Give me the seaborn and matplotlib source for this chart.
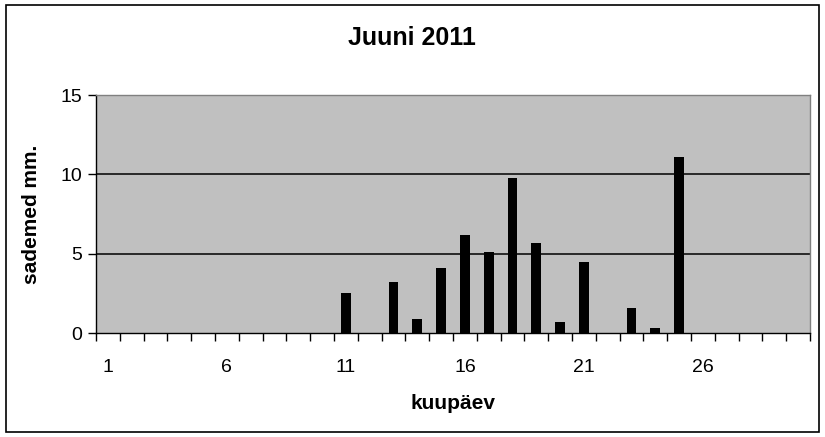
import matplotlib
matplotlib.use('Agg')
import matplotlib.pyplot as plt
import numpy as np
import pandas as pd
import seaborn as sns
from matplotlib.patches import Rectangle

# sademed juunis 2011 (mm), päevad 1..30
paevad = list(range(1, 31))
sademed = [0, 0, 0, 0, 0, 0, 0, 0, 0, 0,
           2.5, 0, 3.2, 0.9, 4.1, 6.2, 5.1, 9.8, 5.7, 0.7,
           4.5, 0, 1.6, 0.3, 11.1, 0, 0, 0, 0, 0]
y_ticks = [0, 5, 10, 15]
x_labels = ['1', '6', '11', '16', '21', '26']

df = pd.DataFrame({'kuupaev': paevad, 'sademed': sademed})

sns.set_style('white')
plt.rcParams['font.family'] = ['Liberation Sans', 'DejaVu Sans']
plt.rcParams['text.color'] = 'black'
plt.rcParams['axes.labelcolor'] = 'black'
plt.rcParams['xtick.color'] = 'black'
plt.rcParams['ytick.color'] = 'black'

fig = plt.figure(figsize=(8.25, 4.37), dpi=100)
ax = fig.add_axes([96 / 825, 1 - 333 / 437, (810 - 96) / 825, (333 - 95) / 437])

sns.barplot(data=df, x='kuupaev', y='sademed', color='black', width=0.42,
            saturation=1, linewidth=0, edgecolor='black', ax=ax, zorder=3)

ax.set_facecolor('#c0c0c0')
ax.set_xlim(-0.5, 29.5)
ax.set_ylim(0, 15)

ax.set_yticks(y_ticks)
ax.set_yticklabels([str(v) for v in y_ticks], fontsize=14)
for v in [5, 10]:
    ax.axhline(v, color='black', lw=1.1, zorder=2)

ax.set_xticks([0, 5, 10, 15, 20, 25])
ax.set_xticklabels(x_labels, fontsize=14)
ax.set_xticks(np.arange(-0.5, 30, 1), minor=True)
ax.tick_params(axis='x', which='major', length=0, pad=19, bottom=True)
ax.tick_params(axis='x', which='minor', length=6, width=1, color='black',
               direction='out', bottom=True)
ax.tick_params(axis='y', which='major', length=6, width=1, color='black',
               direction='out', pad=4, left=True)

for s in ['top', 'right']:
    ax.spines[s].set_color('#808080')
    ax.spines[s].set_linewidth(1)
for s in ['left', 'bottom']:
    ax.spines[s].set_color('black')
    ax.spines[s].set_linewidth(1)

ax.set_xlabel('kuupäev', fontsize=15, fontweight='bold', labelpad=13)
ax.set_ylabel('sademed mm.', fontsize=15, fontweight='bold', labelpad=14)
fig.text(412 / 825, 1 - 38 / 437, 'Juuni 2011', fontsize=18, fontweight='bold',
         ha='center', va='center')

# välimine raam
fig.patches.append(Rectangle((6 / 825, 1 - 432 / 437), (819 - 6) / 825, (432 - 5) / 437,
                             transform=fig.transFigure, fill=False, edgecolor='black', lw=1.2))

fig.savefig('out.png', dpi=100)
